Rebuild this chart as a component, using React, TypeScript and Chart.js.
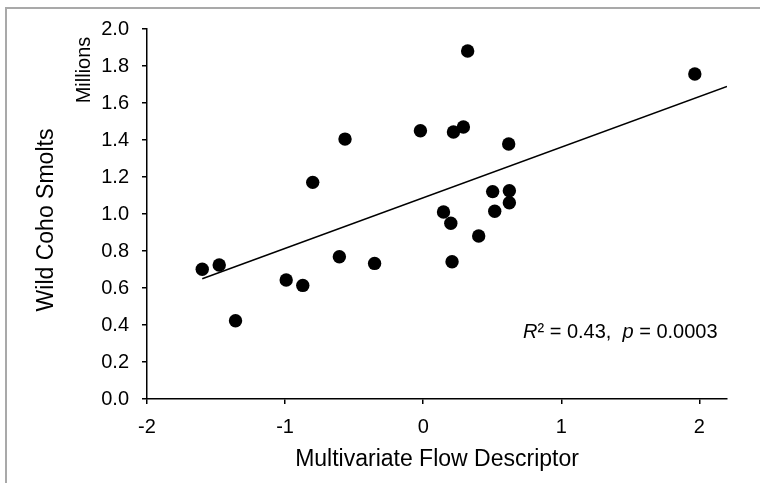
import React, { useEffect, useRef } from "react";
import { Chart, registerables } from "chart.js";

Chart.register(...registerables);

// Multivariate flow descriptor (x) and wild coho smolts in millions (y)
const flowX = [
  -1.6, -1.477, -1.359, -0.992, -0.872, -0.8, -0.607, -0.566, -0.352, -0.02,
  0.147, 0.2, 0.209, 0.219, 0.291, 0.322, 0.402, 0.503, 0.518, 0.619, 0.624,
  0.624, 1.967,
];
const smoltsY = [
  0.701, 0.724, 0.423, 0.643, 0.614, 1.171, 0.769, 1.405, 0.733, 1.45, 1.011,
  0.95, 0.742, 1.443, 1.47, 1.881, 0.881, 1.121, 1.015, 1.378, 1.126, 1.061,
  1.757,
];
// Regression trend line end points
const trendX = [-1.6, 2.2];
const trendY = [0.65, 1.689];

const xTickValues = [-2, -1, 0, 1, 2];
const xTitle = "Multivariate Flow Descriptor";
const yTitle = "Wild Coho Smolts";
const yUnit = "Millions";
const statsParts = [
  { text: "R", italic: true },
  { text: "\u00b2 = 0.43,  ", italic: false },
  { text: "p", italic: true },
  { text: " = 0.0003", italic: false },
];

const FONT = "'Liberation Sans', Arial, Helvetica, sans-serif";

const decorPlugin = {
  id: "decor",
  beforeDraw(chart: any) {
    const ctx = chart.ctx;
    ctx.save();
    ctx.fillStyle = "#ffffff";
    ctx.fillRect(0, 0, chart.width, chart.height);
    ctx.strokeStyle = "#a9a9a9";
    ctx.lineWidth = 2;
    ctx.beginPath();
    ctx.moveTo(6, chart.height);
    ctx.lineTo(6, 8);
    ctx.lineTo(chart.width, 8);
    ctx.stroke();
    ctx.restore();
  },
  afterDraw(chart: any) {
    const ctx = chart.ctx;
    const area = chart.chartArea;
    ctx.save();
    ctx.fillStyle = "#000";
    ctx.textBaseline = "alphabetic";

    // x title
    ctx.font = `23px ${FONT}`;
    ctx.textAlign = "center";
    ctx.fillText(xTitle, (area.left + area.right) / 2, 466);

    // y title
    ctx.save();
    ctx.translate(53, 220);
    ctx.rotate(-Math.PI / 2);
    ctx.font = `23px ${FONT}`;
    ctx.textAlign = "center";
    ctx.fillText(yTitle, 0, 0);
    ctx.restore();

    // units
    ctx.save();
    ctx.translate(90, 70);
    ctx.rotate(-Math.PI / 2);
    ctx.font = `20px ${FONT}`;
    ctx.textAlign = "center";
    ctx.fillText(yUnit, 0, 0);
    ctx.restore();

    // stats annotation
    ctx.textAlign = "left";
    let x = 523;
    const y = 337.5;
    for (const p of statsParts) {
      ctx.font = `${p.italic ? "italic " : ""}20px ${FONT}`;
      ctx.fillText(p.text, x, y);
      x += ctx.measureText(p.text).width;
    }
    ctx.restore();
  },
};

export default function App() {
  const canvasRef = useRef<HTMLCanvasElement | null>(null);

  useEffect(() => {
    const canvas = canvasRef.current;
    if (!canvas) return;
    const tickFont = { family: FONT, size: 20 };
    const chart = new Chart(canvas, {
      type: "scatter",
      data: {
        datasets: [
          {
            type: "line",
            data: trendX.map((x, i) => ({ x, y: trendY[i] })),
            borderColor: "#000",
            borderWidth: 1.5,
            pointRadius: 0,
            fill: false,
            tension: 0,
            order: 2,
          } as any,
          {
            data: flowX.map((x, i) => ({ x, y: smoltsY[i] })),
            pointRadius: 6.7,
            pointHoverRadius: 6.7,
            pointBackgroundColor: "#000",
            pointBorderColor: "#000",
            pointBorderWidth: 0,
            order: 1,
          },
        ],
      },
      options: {
        responsive: false,
        animation: false,
        events: [],
        layout: { padding: { top: 29, right: 33, left: 0, bottom: 0 } },
        plugins: {
          legend: { display: false },
          tooltip: { enabled: false },
          title: { display: false },
        },
        scales: {
          x: {
            type: "linear",
            min: -2,
            max: 2.2,
            afterFit(scale: any) {
              scale.height = 84;
            },
            afterBuildTicks(scale: any) {
              scale.ticks = xTickValues.map((v) => ({ value: v }));
            },
            ticks: {
              stepSize: 1,
              includeBounds: false,
              padding: 11,
              color: "#000",
              font: tickFont,
              maxRotation: 0,
              callback: (v: any) => String(v),
            },
            grid: {
              drawOnChartArea: false,
              drawTicks: true,
              tickLength: 5,
              color: "#000",
              lineWidth: 1.5,
            },
            border: { display: true, color: "#000", width: 1.5 },
          },
          y: {
            type: "linear",
            min: 0,
            max: 2,
            afterFit(scale: any) {
              scale.width = 147;
            },
            ticks: {
              stepSize: 0.2,
              padding: 13,
              color: "#000",
              font: tickFont,
              callback: (v: any) => Number(v).toFixed(1),
            },
            grid: {
              drawOnChartArea: false,
              drawTicks: true,
              tickLength: 5,
              color: "#000",
              lineWidth: 1.5,
            },
            border: { display: true, color: "#000", width: 1.5 },
          },
        },
      } as any,
      plugins: [decorPlugin],
    });
    return () => chart.destroy();
  }, []);

  return (
    <div
      style={{
        position: "fixed",
        left: 0,
        top: 0,
        width: 760,
        height: 483,
        background: "#fff",
      }}
    >
      <canvas
        ref={canvasRef}
        width={760}
        height={483}
        style={{ display: "block", width: 760, height: 483 }}
      />
    </div>
  );
}
